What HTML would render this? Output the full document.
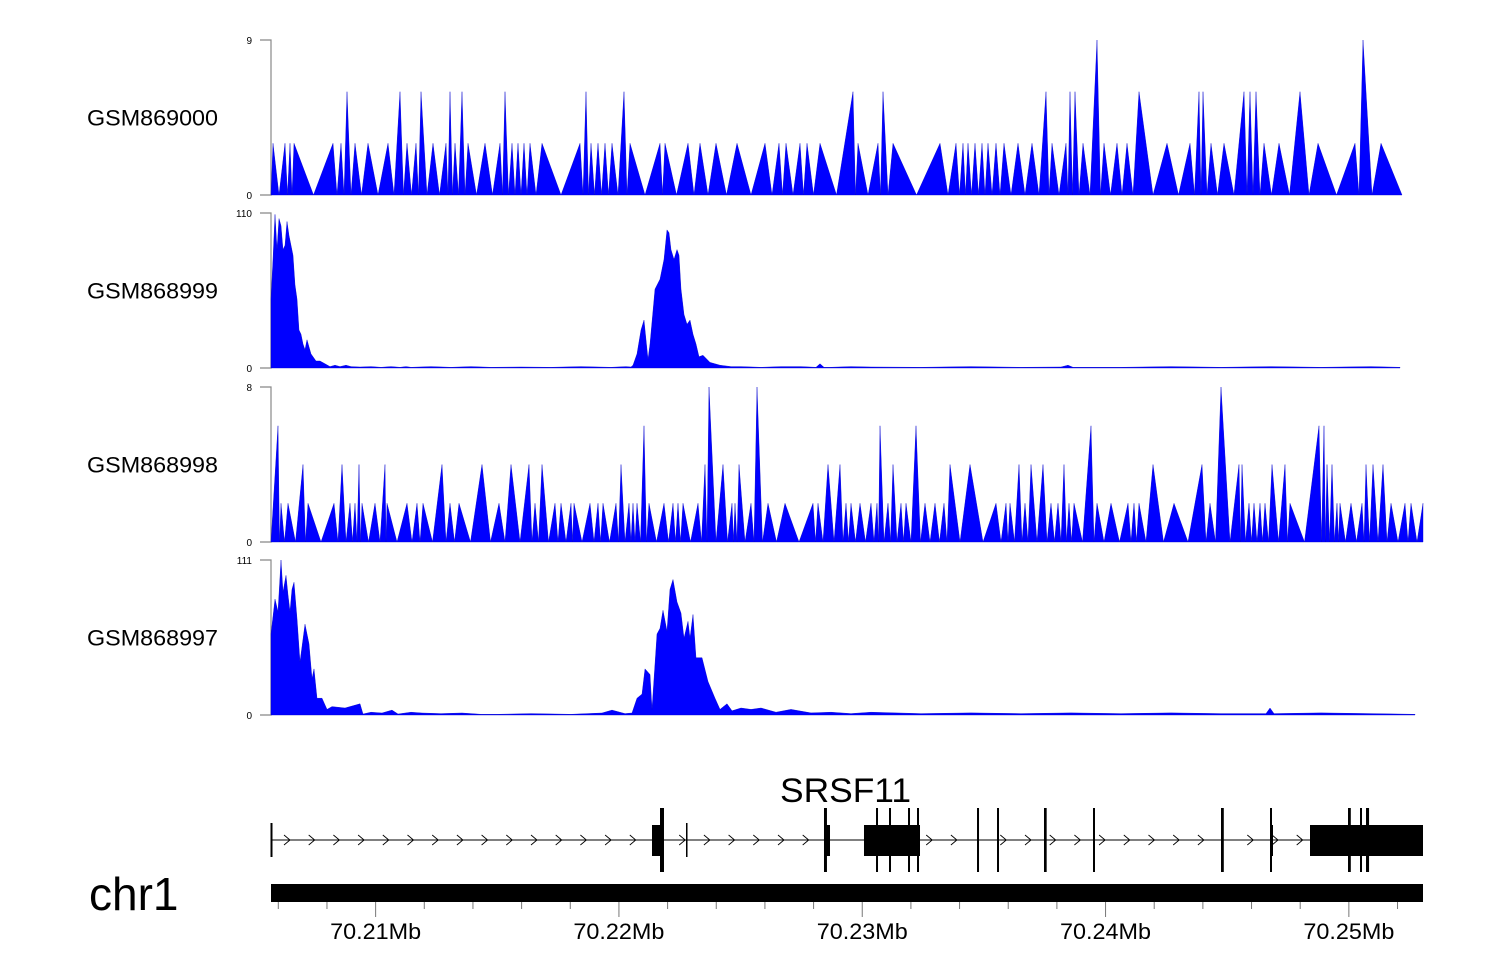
<!DOCTYPE html>
<html><head><meta charset="utf-8"><style>
body{margin:0;background:#fff}
svg{display:block;font-family:"Liberation Sans",sans-serif}
</style></head><body>
<svg id="chart" width="1500" height="980">
<g id="tracks"></g><g id="gene"></g><g id="axis"></g>
</svg>
<script>
// data: positions are bin indices (bin = 41.1 bp starting at 70,205,700)
const startBp = 70205700;
const binBp = 41.1;
const trackNames = ["GSM869000","GSM868999","GSM868998","GSM868997"];
const trackMax = [9,110,8,111];
const trackEndBin = [1131,1129,1152,1144];
const t1Bins = [2,14,19,23,62,70,76,84,97,117,129,136,145,150,162,175,179,184,191,197,214,229,234,241,247,253,259,271,309,315,320,327,334,341,353,359,389,394,417,429,445,466,494,508,515,529,536,549,582,587,607,612,622,669,685,692,697,704,711,717,725,733,747,761,775,781,795,799,804,812,826,833,846,856,868,896,919,928,932,940,953,973,979,985,993,1008,1029,1047,1084,1092,1110];
const t1Vals = [3,3,3,3,3,3,6,3,3,3,6,3,3,6,3,3,6,3,6,3,3,3,6,3,3,3,3,3,3,6,3,3,3,3,6,3,3,3,3,3,3,3,3,3,3,3,3,3,6,3,3,6,3,3,3,3,3,3,3,3,3,3,3,3,6,3,3,6,6,3,9,3,3,3,6,3,3,6,6,3,3,6,6,6,3,3,6,3,3,9,3];
const t3Bins = [7,10,17,32,37,63,71,79,84,88,91,104,114,116,136,146,152,171,179,188,211,228,240,258,264,271,284,290,300,303,319,327,332,345,350,358,362,366,373,378,393,402,407,412,427,434,438,452,461,464,468,480,486,497,514,542,547,557,569,575,580,589,600,606,609,617,622,630,635,645,654,664,673,679,699,725,735,739,748,754,760,772,780,787,793,798,803,820,826,840,857,863,868,882,903,931,939,950,968,971,978,983,989,994,1001,1014,1019,1048,1053,1056,1061,1066,1069,1080,1091,1095,1102,1112,1120,1134,1140,1152];
const t3Vals = [6,2,2,4,2,2,4,2,2,4,2,2,4,2,2,2,2,4,2,2,4,2,4,4,2,4,2,2,2,2,2,2,2,2,4,2,2,2,6,2,2,2,2,2,2,4,8,4,2,2,4,2,8,2,2,2,2,4,4,2,2,2,2,2,6,2,4,2,2,6,2,2,2,4,4,2,2,2,4,2,4,4,2,2,4,2,2,6,2,2,2,2,2,4,2,4,2,8,4,4,2,2,2,2,4,4,2,6,6,4,4,2,2,2,2,4,4,4,2,2,2,2];
const t2Bins = [0,2,4,6,8,10,12,14,16,18,20,22,24,26,28,30,32,34,36,38,40,42,45,49,54,59,64,69,75,80,89,100,110,120,129,135,140,160,180,200,220,250,280,310,340,355,360,362,366,370,373,375,377,379,384,389,393,396,398,400,403,406,408,410,413,416,419,422,425,428,432,439,449,460,470,490,510,530,545,549,553,559,580,600,650,700,750,790,797,802,850,900,950,1000,1050,1100,1129];
const t2Vals = [49,77,109,84,106,101,84,87,104,94,87,80,59,49,27,24,17,13,20,15,10,8,5,5,3,1,2,1,2,1,0.7,1,0.5,1,0.5,1,0.5,1,0.5,1,0.5,0.7,0.5,1,0.5,1,0.7,2,10,27,34,20,6,17,56,63,77,98,96,84,77,84,80,56,38,31,34,24,17,8,9,4,2,1,1,0.5,1,1,0.5,3,0.5,0.5,1,0.7,0.5,1,0.5,0.7,2,0.5,0.5,1,0.5,1,0.5,1,0.5];
const t4Bins = [0,4,7,10,12,15,17,19,21,23,26,29,34,38,41,43,46,51,56,61,74,89,92,100,111,121,127,140,151,170,191,210,227,260,300,331,341,354,361,366,371,374,379,381,386,389,392,396,399,402,406,410,413,417,419,422,425,431,437,444,449,456,461,470,480,490,505,520,540,560,580,600,650,700,750,800,850,900,950,995,999,1003,1050,1100,1144];
const t4Vals = [58,83,74,111,88,100,86,74,90,95,69,38,65,51,26,33,12,12,4,6,5,8,0.7,2,1.4,3.5,0.7,2,1.4,1,1.4,0.5,0.5,1,0.5,1.4,3.5,1,1.4,12,15,33,29,4,58,62,75,60,90,97,81,73,55,67,55,72,41,41,24,12,4,8,3,5,4,5,2,4,1.5,2,1,2,1,1.5,1,1.5,1,1.5,1,1,5,1,1.5,1,0.5];
const geneName = "SRSF11";
const txStart = 70205700, txEnd = 70253047;
const medExons = [[70221359,70221688],[70228500,70228675],[70230072,70232374],[70246759,70246882],[70248403,70253047]];
const tallExons = [[70221688,70221852],[70228428,70228550],[70230566,70230640],[70231100,70231170],[70231881,70231950],[70232251,70232330],[70234717,70234800],[70235539,70235580],[70237470,70237580],[70239484,70239560],[70244745,70244860],[70246759,70246840],[70249965,70250080],[70250458,70250530],[70250705,70250830]];
const smallMarks = [70222757];
const tickKb = [6,8,10,12,14,16,18,20,22,24,26,28,30,32,34,36,38,40,42,44,46,48,50,52];
const majorLabels = ["70.21Mb","70.22Mb","70.23Mb","70.24Mb","70.25Mb"];
const majorKb = [10,20,30,40,50];
</script>
<script>
const NS="http://www.w3.org/2000/svg";
function mk(parent,tag,attrs){const e=document.createElementNS(NS,tag);for(const k in attrs)e.setAttribute(k,attrs[k]);parent.appendChild(e);return e;}
const X0=271;
function xBin(b){return X0+b;}
function xBp(bp){return X0+(bp-startBp)/binBp;}
const trackTop=[40,213,387,560], trackH=155;
const tracksG=document.getElementById('tracks');
function sparsePts(bins,vals,endBin){
  const p=[[0,0]];
  for(let i=0;i<bins.length;i++){
    p.push([bins[i],vals[i]]);
    if(i<bins.length-1)p.push([(bins[i]+bins[i+1])/2,0]);
  }
  p.push([Math.max(endBin,bins[bins.length-1]),0]);return p;
}
function densePts(bins,vals){const p=bins.map((b,i)=>[b,vals[i]]);p.unshift([bins[0],0]);p.push([bins[bins.length-1],0]);return p;}
const datasets=[sparsePts(t1Bins,t1Vals,trackEndBin[0]),densePts(t2Bins,t2Vals),sparsePts(t3Bins,t3Vals,trackEndBin[2]),densePts(t4Bins,t4Vals)];
for(let t=0;t<4;t++){
  const g=mk(tracksG,'g',{});
  
  
  const top=trackTop[t], base=top+trackH;
  const yv=v=>base-v/trackMax[t]*trackH;
  const lab=mk(g,'text',{x:87,y:(top+base)/2+8,'font-size':22,fill:'#000',textLength:131,lengthAdjust:'spacingAndGlyphs'});
  lab.textContent=trackNames[t];
  
  
  const ax=mk(g,'path',{d:`M260,${top}H${X0}V${base}H260`,stroke:'#888',fill:'none','stroke-width':1.2});
  
  
  const tmx=mk(g,'text',{x:252,y:top+4,'font-size':10,'text-anchor':'end'});tmx.textContent=trackMax[t];
  
  
  const tmn=mk(g,'text',{x:252,y:base+4,'font-size':10,'text-anchor':'end'});tmn.textContent='0';
  
  
  const pts=datasets[t].map(p=>[Math.max(X0,xBin(p[0])),yv(p[1])]);
  const poly=mk(g,'polygon',{points:pts.map(p=>p[0].toFixed(1)+','+p[1].toFixed(1)).join(' '),fill:'#0000ff',stroke:'#0000cc','stroke-width':0.4});
  
  
}
const geneG=document.getElementById('gene');
const gl=mk(geneG,'text',{x:780,y:802,'font-size':34,textLength:131,lengthAdjust:'spacingAndGlyphs'});gl.textContent=geneName;


const yc=840;
const line=mk(geneG,'line',{x1:xBp(txStart),x2:xBp(txEnd),y1:yc,y2:yc,stroke:'#000','stroke-width':1});


const st=mk(geneG,'line',{x1:xBp(txStart)+0.5,x2:xBp(txStart)+0.5,y1:823,y2:857,stroke:'#000','stroke-width':2});


const blocks=medExons.concat(tallExons).map(e=>[xBp(e[0]),xBp(e[1])]);
for(let x=xBp(txStart)+17;x<xBp(txEnd)-6;x+=24.7){
  if(blocks.some(b=>x>b[0]-8&&x<b[1]+3))continue;
  const c=mk(geneG,'path',{d:`M${x-4},${yc-5}L${x+2},${yc}L${x-4},${yc+5}`,stroke:'#000',fill:'none','stroke-width':0.9});
  
  
}
medExons.forEach(e=>{const r=mk(geneG,'rect',{x:xBp(e[0]),y:825,width:Math.max(2,xBp(e[1])-xBp(e[0])),height:31,fill:'#000'});
  
  });
tallExons.forEach(e=>{const r=mk(geneG,'rect',{x:xBp(e[0]),y:808,width:Math.max(2,xBp(e[1])-xBp(e[0])),height:64,fill:'#000'});
  
  });
smallMarks.forEach(b=>{const r=mk(geneG,'rect',{x:xBp(b),y:823,width:1.5,height:34,fill:'#000'});
  
  });
const axG=document.getElementById('axis');
const chr=mk(axG,'text',{x:89,y:910,'font-size':46});chr.textContent='chr1';


const bar=mk(axG,'rect',{x:271,y:884,width:1152,height:18,fill:'#000'});


tickKb.forEach(k=>{const x=xBp(70200000+k*1000);const major=majorKb.includes(k);
  const l=mk(axG,'line',{x1:x,x2:x,y1:902,y2:major?917:909,stroke:'#777','stroke-width':1});
  
  });
majorKb.forEach((k,i)=>{const t=mk(axG,'text',{x:xBp(70200000+k*1000)-45.5,y:939,'font-size':22,textLength:91,lengthAdjust:'spacingAndGlyphs'});t.textContent=majorLabels[i];
  
  });
</script>
</body></html>
